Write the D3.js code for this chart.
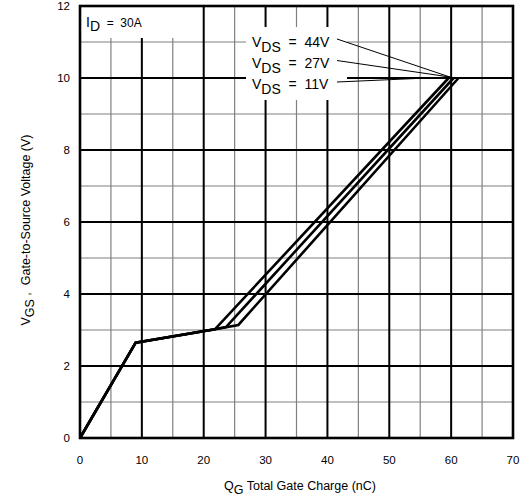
<!DOCTYPE html>
<html>
<head>
<meta charset="utf-8">
<script src="https://cdn.jsdelivr.net/npm/d3@7"></script>
<style>
  body { margin: 0; background: #fff; }
  text { font-family: "Liberation Sans", Arial, sans-serif; fill: #000; white-space: pre; }
</style>
</head>
<body>
<svg id="chart" width="528" height="501"></svg>
<script>
// Gate charge curves, one per V_DS
const series_labels = ["44V", "27V", "11V"];
const qg_44 = [0, 9, 21.8, 59.6];
const vgs_44 = [0, 2.65, 3.02, 10];
const qg_27 = [0, 9, 21.8, 23.6, 60.4];
const vgs_27 = [0, 2.65, 3.02, 3.08, 10];
const qg_11 = [0, 9, 21.8, 25.6, 61.2];
const vgs_11 = [0, 2.65, 3.02, 3.14, 10];
const x_ticks = [0, 10, 20, 30, 40, 50, 60, 70];
const y_ticks = [0, 2, 4, 6, 8, 10, 12];
const x_minor = [5, 15, 25, 35, 45, 55, 65];
const y_minor = [1, 3, 5, 7, 9, 11];

const margin = {top: 6, right: 15, bottom: 63, left: 80};
const width = 528, height = 501;
const svg = d3.select("#chart");

let x = d3.scaleLinear().domain([0, 70]).range([margin.left, width - margin.right]);
let y = d3.scaleLinear().domain([0, 12]).range([height - margin.bottom, margin.top]);

// grid
let grid = svg.append("g");
grid.selectAll(".vmin").data(x_minor).enter().append("line")
    .attr("x1", d => x(d)).attr("x2", d => x(d))
    .attr("y1", y(0)).attr("y2", y(12))
    .attr("stroke", "#808080").attr("stroke-width", 1.2);
grid.selectAll(".hmin").data(y_minor).enter().append("line")
    .attr("y1", d => y(d)).attr("y2", d => y(d))
    .attr("x1", x(0)).attr("x2", x(70))
    .attr("stroke", "#808080").attr("stroke-width", 1.2);
grid.selectAll(".vmaj").data(x_ticks.slice(1, -1)).enter().append("line")
    .attr("x1", d => x(d)).attr("x2", d => x(d))
    .attr("y1", y(0)).attr("y2", y(12))
    .attr("stroke", "#000").attr("stroke-width", 2);
grid.selectAll(".hmaj").data(y_ticks.slice(1, -1)).enter().append("line")
    .attr("y1", d => y(d)).attr("y2", d => y(d))
    .attr("x1", x(0)).attr("x2", x(70))
    .attr("stroke", "#000").attr("stroke-width", 2);

// white boxes behind the labels
svg.append("rect").attr("x", x(0)).attr("y", y(12))
    .attr("width", 120).attr("height", 32).attr("fill", "#fff");
svg.append("rect").attr("x", 246).attr("y", 27)
    .attr("width", 101).attr("height", 73).attr("fill", "#fff");

// curves
let line = d3.line().x(d => x(d[0])).y(d => y(d[1]));
[[qg_44, vgs_44], [qg_27, vgs_27], [qg_11, vgs_11]].forEach(function(s) {
    let pts = s[0].map((q, i) => [q, s[1][i]]);
    svg.append("path").datum(pts)
        .attr("d", line)
        .attr("fill", "none")
        .attr("stroke", "#000")
        .attr("stroke-width", 2.6)
        .attr("stroke-linejoin", "miter");
});

// frame
svg.append("rect")
    .attr("x", x(0)).attr("y", y(12))
    .attr("width", x(70) - x(0)).attr("height", y(0) - y(12))
    .attr("fill", "none").attr("stroke", "#000").attr("stroke-width", 2.6);

// tick labels
svg.selectAll(".xt").data(x_ticks).enter().append("text")
    .attr("x", d => x(d)).attr("y", y(0) + 26)
    .attr("text-anchor", "middle").style("font-size", "11.5px")
    .text(d => d);
svg.selectAll(".yt").data(y_ticks).enter().append("text")
    .attr("x", x(0) - 10).attr("y", d => y(d) + 4)
    .attr("text-anchor", "end").style("font-size", "11.5px")
    .text(d => d);

// I_D label
let id_lbl = svg.append("text").attr("x", 86).attr("y", 27).style("font-size", "14px");
id_lbl.append("tspan").text("I");
id_lbl.append("tspan").attr("dy", 4).text("D");
id_lbl.append("tspan").attr("dy", -4).style("font-size", "12px").text("  =  30A");

// V_DS labels with leader lines
let converge = [x(59.8), y(10) - 1];
series_labels.forEach(function(lbl, i) {
    let base_y = 47 + i * 21;
    let t = svg.append("text").attr("x", 252).attr("y", base_y).style("font-size", "14px");
    t.append("tspan").text("V");
    t.append("tspan").attr("dy", 5).text("DS");
    t.append("tspan").attr("dy", -5).text("  =  " + lbl);
    svg.append("line")
        .attr("x1", 337).attr("y1", base_y - 8 + i * 0.5)
        .attr("x2", converge[0]).attr("y2", converge[1])
        .attr("stroke", "#000").attr("stroke-width", 1);
});

// axis titles
let xt = svg.append("text").attr("x", 300).attr("y", 490)
    .attr("text-anchor", "middle").style("font-size", "12.5px");
xt.append("tspan").text("Q");
xt.append("tspan").attr("dy", 4).text("G");
xt.append("tspan").attr("dy", -4).text(" Total Gate Charge (nC)");

let yt = svg.append("text")
    .attr("transform", `translate(30, ${(y(0) + y(12)) / 2 + 8}) rotate(-90)`)
    .attr("text-anchor", "middle").style("font-size", "12.5px");
yt.append("tspan").text("V");
yt.append("tspan").attr("dy", 4).text("GS");
yt.append("tspan").attr("dy", -4).text(" ,  Gate-to-Source Voltage (V)");
</script>
</body>
</html>
